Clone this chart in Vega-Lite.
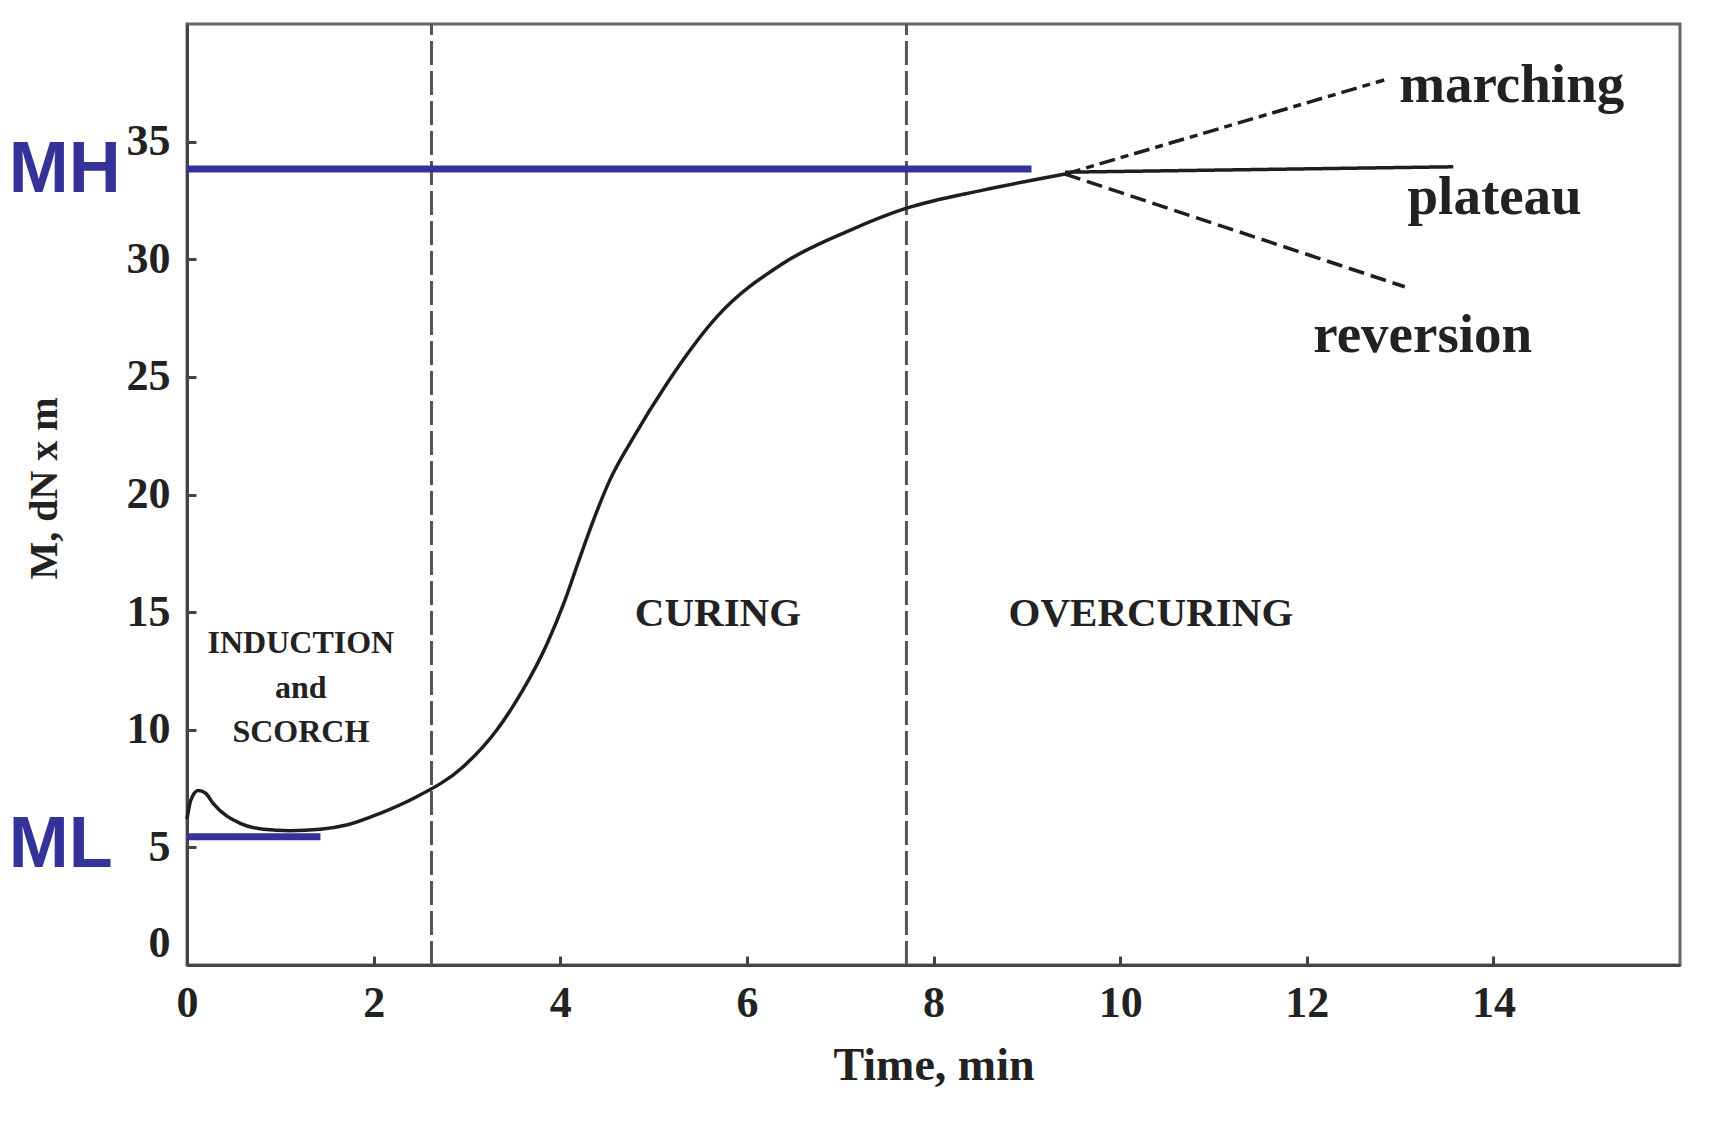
{
  "$schema": "https://vega.github.io/schema/vega-lite/v6.json",
  "autosize": {"type": "none"},
  "padding": {"left": 187, "top": 24, "right": 41, "bottom": 166},
  "width": 1493,
  "height": 941,
  "background": "#ffffff",
  "config": {
    "view": {"stroke": "#666666", "strokeWidth": 3},
    "axis": {
      "labelFont": "Liberation Serif",
      "labelFontWeight": "bold",
      "labelColor": "#222222",
      "labelFontSize": 44,
      "titleFont": "Liberation Serif",
      "titleFontWeight": "bold",
      "titleColor": "#222222",
      "domainColor": "#444444",
      "domainWidth": 3,
      "tickColor": "#444444",
      "tickWidth": 3,
      "tickSize": -9,
      "grid": false,
      "format": "d"
    }
  },
  "datasets": {
    "curve": [
      {"t": 0.0, "m": 6.2},
      {"t": 0.04, "m": 7.0},
      {"t": 0.12, "m": 7.42},
      {"t": 0.2, "m": 7.3},
      {"t": 0.28, "m": 6.87},
      {"t": 0.57, "m": 6.02},
      {"t": 0.82, "m": 5.77},
      {"t": 1.1, "m": 5.71},
      {"t": 1.43, "m": 5.77},
      {"t": 1.71, "m": 5.95},
      {"t": 2.07, "m": 6.45},
      {"t": 2.43, "m": 7.09},
      {"t": 2.96, "m": 8.43},
      {"t": 3.32, "m": 9.99},
      {"t": 3.6, "m": 11.69},
      {"t": 3.86, "m": 13.67},
      {"t": 4.05, "m": 15.5},
      {"t": 4.2, "m": 17.2},
      {"t": 4.35, "m": 18.85},
      {"t": 4.53, "m": 20.6},
      {"t": 4.78, "m": 22.4},
      {"t": 5.14, "m": 24.7},
      {"t": 5.68, "m": 27.56},
      {"t": 6.39, "m": 29.83},
      {"t": 7.11, "m": 31.24},
      {"t": 7.71, "m": 32.17},
      {"t": 8.53, "m": 32.94},
      {"t": 9.07, "m": 33.37},
      {"t": 9.41, "m": 33.62}
    ],
    "branches": [
      {"branch": "marching", "t": 9.41, "m": 33.62},
      {"branch": "marching", "t": 12.83, "m": 37.62},
      {"branch": "plateau", "t": 9.41, "m": 33.7},
      {"branch": "plateau", "t": 13.57, "m": 33.93},
      {"branch": "reversion", "t": 9.41, "m": 33.62},
      {"branch": "reversion", "t": 13.05, "m": 28.83}
    ],
    "stages": [
      {"t": 2.62},
      {"t": 7.71}
    ],
    "smallLabels": [
      {"label": "INDUCTION", "t": 1.22, "m": 13.28},
      {"label": "and", "t": 1.22, "m": 11.34},
      {"label": "SCORCH", "t": 1.22, "m": 9.49}
    ],
    "phaseLabels": [
      {"label": "CURING", "t": 5.69, "m": 14.4},
      {"label": "OVERCURING", "t": 10.33, "m": 14.4}
    ],
    "branchLabels": [
      {"label": "marching", "t": 12.99, "m": 36.69},
      {"label": "plateau", "t": 13.08, "m": 31.92},
      {"label": "reversion", "t": 12.07, "m": 26.06}
    ],
    "levels": [
      {"name": "MH", "start": 0, "end": 9.05, "value": 33.84},
      {"name": "ML", "start": 0, "end": 1.43, "value": 5.45}
    ],
    "levelLabels": [
      {"name": "MH", "t": -1.91, "m": 32.86},
      {"name": "ML", "t": -1.91, "m": 4.17}
    ]
  },
  "layer": [
    {
      "data": {"name": "stages"},
      "mark": {"type": "rule", "color": "#555555", "strokeWidth": 3, "strokeDash": [24, 6]},
      "encoding": {
        "x": {
          "field": "t", "type": "quantitative",
          "scale": {"domain": [0, 16], "nice": false, "zero": false},
          "axis": {
            "values": [0, 2, 4, 6, 8, 10, 12, 14],
            "title": "Time, min",
            "titleFontSize": 46,
            "labelFlush": false,
            "labelPadding": 25,
            "titlePadding": 18
          }
        },
        "y": {"datum": 0, "type": "quantitative"},
        "y2": {"datum": 40}
      }
    },
    {
      "data": {"name": "curve"},
      "mark": {"type": "line", "color": "#1e1e1e", "strokeWidth": 3.5, "interpolate": "monotone"},
      "encoding": {
        "x": {"field": "t", "type": "quantitative"},
        "y": {
          "field": "m", "type": "quantitative",
          "scale": {"domain": [0, 40], "nice": false, "zero": false},
          "axis": {
            "values": [0, 5, 10, 15, 20, 25, 30, 35],
            "title": "M, dN x m",
            "titleFontSize": 40,
            "labelPadding": 26,
            "labelFlush": true,
            "titleBaseline": "middle",
            "titleX": -143,
            "titleY": 464
          }
        }
      }
    },
    {
      "data": {"name": "branches"},
      "mark": {"type": "line", "color": "#1e1e1e", "strokeWidth": 3.5},
      "encoding": {
        "x": {"field": "t", "type": "quantitative"},
        "y": {"field": "m", "type": "quantitative"},
        "detail": {"field": "branch"},
        "strokeDash": {
          "field": "branch", "type": "nominal",
          "scale": {"domain": ["marching", "plateau", "reversion"], "range": [[16, 6, 8, 6], [1, 0], [16, 7]]},
          "legend": null
        }
      }
    },
    {
      "data": {"name": "levels"},
      "mark": {"type": "rule", "color": "#333399", "strokeWidth": 7},
      "encoding": {
        "x": {"field": "start", "type": "quantitative"},
        "x2": {"field": "end"},
        "y": {"field": "value", "type": "quantitative"}
      }
    },
    {
      "data": {"name": "levelLabels"},
      "mark": {"type": "text", "font": "Liberation Sans", "fontWeight": "bold", "fontSize": 72, "color": "#333399", "align": "left", "baseline": "alphabetic"},
      "encoding": {
        "x": {"field": "t", "type": "quantitative"},
        "y": {"field": "m", "type": "quantitative"},
        "text": {"field": "name"}
      }
    },
    {
      "data": {"name": "smallLabels"},
      "mark": {"type": "text", "font": "Liberation Serif", "fontWeight": "bold", "fontSize": 32, "color": "#222222", "align": "center", "baseline": "alphabetic", "letterSpacing": 1.5},
      "encoding": {
        "x": {"field": "t", "type": "quantitative"},
        "y": {"field": "m", "type": "quantitative"},
        "text": {"field": "label"}
      }
    },
    {
      "data": {"name": "phaseLabels"},
      "mark": {"type": "text", "font": "Liberation Serif", "fontWeight": "bold", "fontSize": 41, "color": "#222222", "align": "center", "baseline": "alphabetic"},
      "encoding": {
        "x": {"field": "t", "type": "quantitative"},
        "y": {"field": "m", "type": "quantitative"},
        "text": {"field": "label"}
      }
    },
    {
      "data": {"name": "branchLabels"},
      "mark": {"type": "text", "font": "Liberation Serif", "fontWeight": "bold", "fontSize": 55, "color": "#222222", "align": "left", "baseline": "alphabetic"},
      "encoding": {
        "x": {"field": "t", "type": "quantitative"},
        "y": {"field": "m", "type": "quantitative"},
        "text": {"field": "label"}
      }
    }
  ]
}
